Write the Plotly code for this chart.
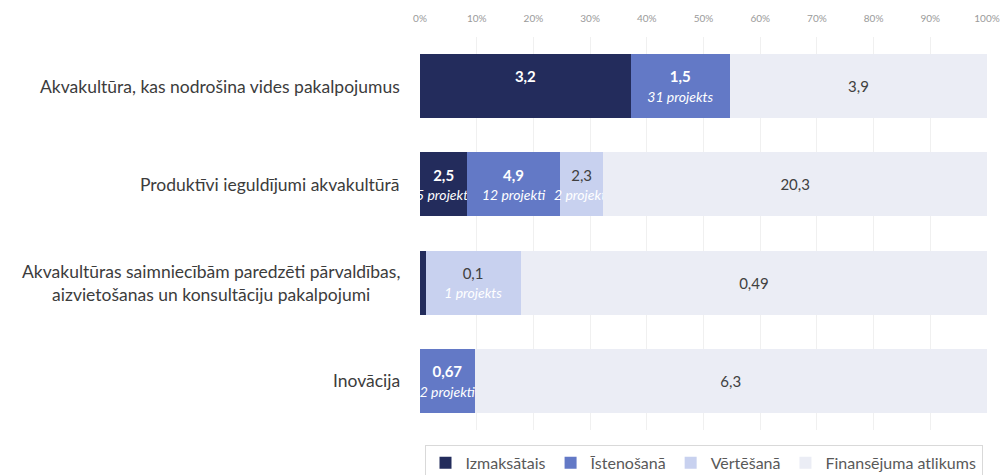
import plotly.graph_objects as go

categories = [
    "Akvakultūra, kas nodrošina vides pakalpojumus",
    "Produktīvi ieguldījumi akvakultūrā",
    "Akvakultūras saimniecībām paredzēti pārvaldības,<br>aizvietošanas un konsultāciju pakalpojumi",
    "Inovācija",
]

series_names = ["Izmaksātais", "Īstenošanā", "Vērtēšanā", "Finansējuma atlikums"]
izmaksatais = [3.2, 2.5, 0.006, 0]
istenosana = [1.5, 4.9, 0, 0.67]
vertesana = [0, 2.3, 0.1, 0]
atlikums = [3.9, 20.3, 0.49, 6.3]

# project counts shown under some values
proj_izmaksatais = [None, "5 projekti", None, None]
proj_istenosana = ["31 projekts", "12 projekti", None, "2 projekti"]
proj_vertesana = [None, "2 projekti", "1 projekts", None]
proj_atlikums = [None, None, None, None]

colors = ["#232c5c", "#6379c6", "#c8d1ef", "#ebedf5"]
value_colors = ["white", "white", "#404040", "#404040"]
bold = [True, True, False, False]


def fmt(v):
    return ("%g" % v).replace(".", ",")


def labels(values, projects, is_bold):
    out = []
    for v, p in zip(values, projects):
        if v < 0.05:
            out.append("")
            continue
        s = fmt(v)
        if is_bold:
            s = "<b>" + s + "</b>"
        if p:
            s += "<br><span style='color:white;font-size:14px'><i>" + p + "</i></span>"
        elif is_bold:
            s += "<br>\u00a0"
        out.append(s)
    return out


fig = go.Figure()
all_values = [izmaksatais, istenosana, vertesana, atlikums]
all_projects = [proj_izmaksatais, proj_istenosana, proj_vertesana, proj_atlikums]
for name, vals, projs, col, tcol, b in zip(series_names, all_values, all_projects,
                                           colors, value_colors, bold):
    fig.add_trace(go.Bar(
        name=name, y=categories, x=vals, orientation="h",
        marker=dict(color=col, line=dict(width=0)),
        text=labels(vals, projs, b), textposition="inside",
        insidetextanchor="middle", textangle=0, constraintext="none",
        textfont=dict(color=tcol, size=15, family="Lato"),
        hoverinfo="skip",
    ))

for c in categories:
    fig.add_annotation(x=0, xref="paper", y=c, yref="y", text=c, showarrow=False,
                       xanchor="right", xshift=-18, align="center",
                       font=dict(size=17.5, color="#3c3c3c", family="Lato"))

fig.update_layout(
    barmode="stack", barnorm="percent", bargap=0.35,
    width=1003, height=475,
    margin=dict(l=420, r=16, t=37, b=45, autoexpand=False),
    paper_bgcolor="white", plot_bgcolor="white",
    font=dict(family="Lato", color="#595959"),
    uniformtext=dict(minsize=11, mode="show"),
    xaxis=dict(side="top", range=[0, 100], dtick=10, ticksuffix="%",
               showgrid=True, gridcolor="#f0f0f0", zeroline=False,
               ticks="outside", ticklen=10, tickcolor="rgba(0,0,0,0)",
               automargin=False,
               tickfont=dict(size=10, color="#9a9a9a"), fixedrange=True),
    yaxis=dict(autorange="reversed", showticklabels=False, showgrid=False,
               automargin=False),
    legend=dict(orientation="h", x=0.5, xanchor="center", y=-0.038, yanchor="top",
                bordercolor="#d9d9d9", borderwidth=1, traceorder="normal",
                font=dict(size=16, color="#595959"), itemwidth=30),
)

fig.write_html("out.html", config={"displayModeBar": False},
               post_script="document.body.style.margin='0';")
